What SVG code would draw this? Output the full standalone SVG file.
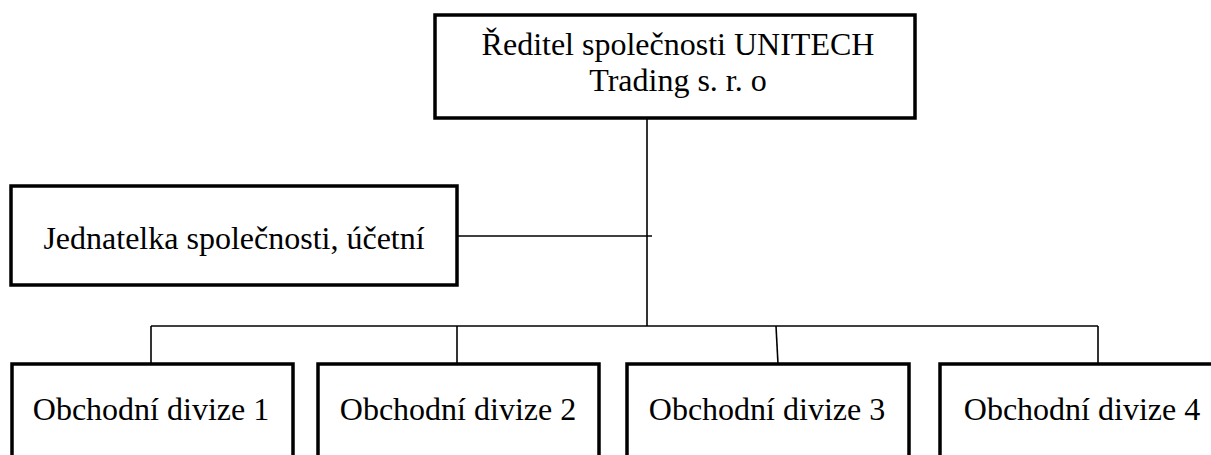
<svg xmlns="http://www.w3.org/2000/svg" width="1211" height="455" viewBox="0 0 1211 455">
<style>
.box{fill:#fff;stroke:#000;stroke-width:3.5}
.ln{fill:none;stroke:#000;stroke-width:1.6}
text{font-family:"Liberation Serif","Times New Roman",serif;font-size:32px;fill:#000;text-anchor:middle}
</style>
<rect width="1211" height="455" fill="#fff"/>
<g id="connectors">
<line class="ln" x1="647" y1="118" x2="647" y2="326"/>
<line class="ln" x1="457" y1="236" x2="652" y2="236"/>
<line class="ln" x1="151" y1="326" x2="1098" y2="326"/>
<line class="ln" x1="151" y1="326" x2="151" y2="364"/>
<line class="ln" x1="457" y1="326" x2="457" y2="364"/>
<line class="ln" x1="776" y1="326" x2="778" y2="364"/>
<line class="ln" x1="1098" y1="326" x2="1098" y2="364"/>
</g>
<g id="director">
<rect class="box" x="435" y="15" width="480" height="103"/>
<text x="678" y="55">Ředitel společnosti UNITECH</text>
<text x="678" y="91">Trading s. r. o</text>
</g>
<g id="jednatelka">
<rect class="box" x="11" y="186" width="446" height="99"/>
<text x="234" y="249">Jednatelka společnosti, účetní</text>
</g>
<g id="divize1">
<rect class="box" x="12" y="364" width="281" height="110"/>
<text x="151" y="420">Obchodní divize 1</text>
</g>
<g id="divize2">
<rect class="box" x="318" y="364" width="281" height="110"/>
<text x="458" y="420">Obchodní divize 2</text>
</g>
<g id="divize3">
<rect class="box" x="627" y="364" width="282" height="110"/>
<text x="767" y="420">Obchodní divize 3</text>
</g>
<g id="divize4">
<rect class="box" x="940" y="364" width="284" height="110"/>
<text x="1082" y="420">Obchodní divize 4</text>
</g>
</svg>
